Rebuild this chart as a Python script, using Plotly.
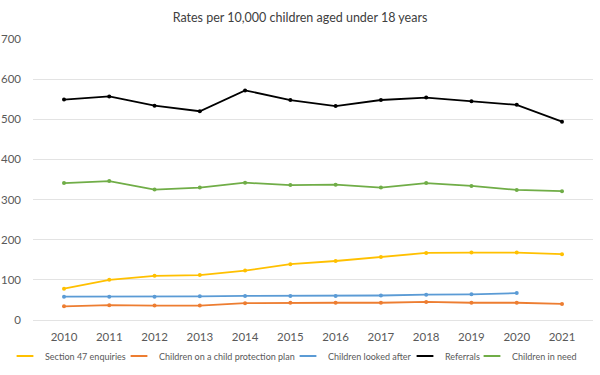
import plotly.graph_objects as go

years = ["2010", "2011", "2012", "2013", "2014", "2015", "2016", "2017", "2018", "2019", "2020", "2021"]
section47 = [78, 100, 110, 112, 123, 139, 147, 157, 167, 168, 168, 164]
cpp = [34, 37, 36, 36, 42, 43, 43, 43, 45, 43, 43, 40]
cla = [58, 58, 58, 59, 60, 60, 60, 61, 63, 64, 67, None]
referrals = [549, 557, 534, 520, 572, 548, 533, 548, 554, 545, 536, 494]
cin = [341, 346, 325, 330, 342, 336, 337, 330, 341, 334, 324, 321]

series = [
    ("Section 47 enquiries", section47, "#FFC000"),
    ("Children on a child protection plan", cpp, "#ED7D31"),
    ("Children looked after", cla, "#5B9BD5"),
    ("Referrals", referrals, "#000000"),
    ("Children in need", cin, "#70AD47"),
]
# text start x (px) of each legend entry
legend_text_x = [45, 159, 328, 445, 512]

font = "Lato, 'Open Sans', sans-serif"
fig = go.Figure()
layout_legends = {}
for i, ((name, vals, col), tx) in enumerate(zip(series, legend_text_x)):
    lname = "legend" if i == 0 else f"legend{i+1}"
    fig.add_trace(go.Scatter(
        x=years, y=vals, name=name, mode="lines+markers",
        line=dict(color=col, width=1.8),
        marker=dict(color=col, size=4, symbol="circle"),
        showlegend=False, legendgroup=name,
    ))
    # compact legend key (short line) for this series
    fig.add_trace(go.Scatter(
        x=[None], y=[None], name=name, mode="markers",
        marker=dict(symbol="line-ew", size=12, color=col, line=dict(color=col, width=2)),
        legend=lname, legendgroup=name, showlegend=True, hoverinfo="skip",
    ))
    layout_legends[lname] = dict(
        orientation="h", xref="container", yref="container",
        x=(tx - 40) / 600, xanchor="left", y=19 / 375, yanchor="middle",
        font=dict(size=9, color="#595959", family=font), itemwidth=30,
        bgcolor="rgba(0,0,0,0)",
    )

fig.update_layout(
    width=600, height=375,
    margin=dict(l=33, r=7, t=39, b=55, autoexpand=False),
    paper_bgcolor="white", plot_bgcolor="white",
    font=dict(family=font, color="#595959", size=12),
    title=dict(text="Rates per 10,000 children aged under 18 years", x=0.5, xanchor="center",
               y=0.952, yanchor="middle", font=dict(size=12.5, color="#404040", family=font)),
    showlegend=True,
    xaxis=dict(type="category", showgrid=False, showline=False, ticks="",
               ticklabelstandoff=8, tickfont=dict(size=11.5, color="#595959")),
    yaxis=dict(range=[0, 700], dtick=100, showgrid=True, gridcolor="#E3E3E3", gridwidth=1,
               zeroline=True, zerolinecolor="#E3E3E3", zerolinewidth=1, showline=False,
               ticks="", ticklabelstandoff=11, tickfont=dict(size=11.5, color="#595959")),
    **layout_legends,
)

fig.write_html("out.html", config={"displayModeBar": False},
               post_script="document.body.style.margin='0';")
